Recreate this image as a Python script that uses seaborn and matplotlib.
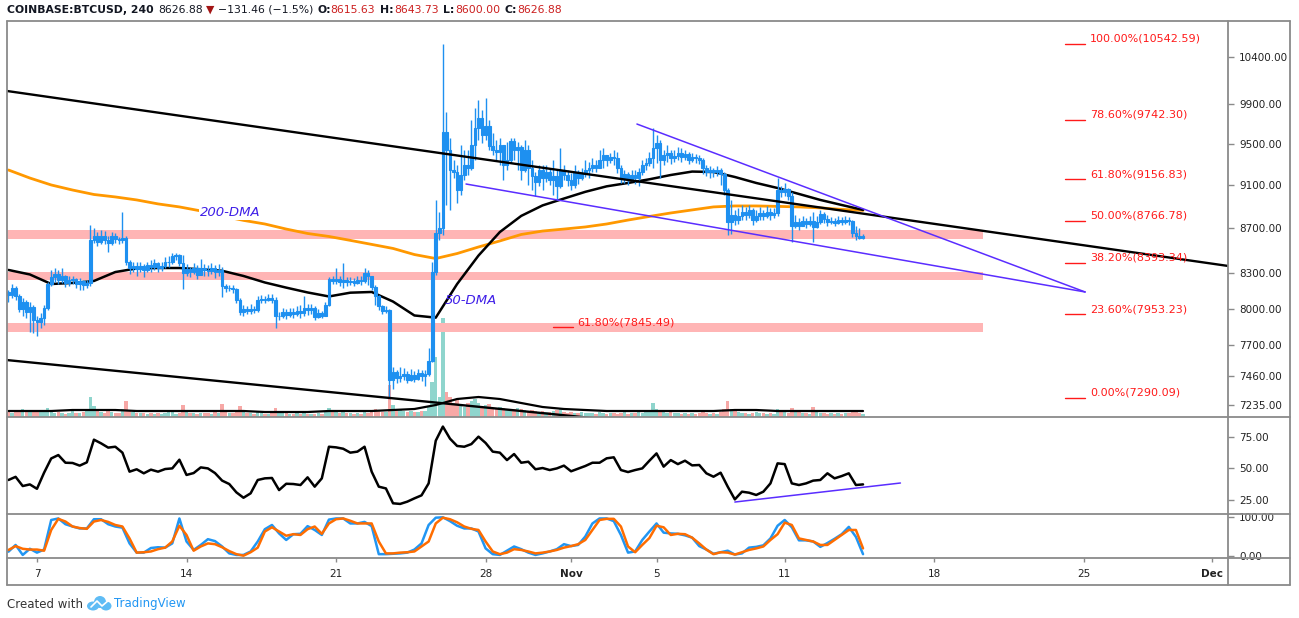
import numpy as np
import pandas as pd
import matplotlib
matplotlib.use("Agg")
import matplotlib.pyplot as plt
import matplotlib.dates as mdates
from matplotlib.lines import Line2D
from matplotlib.patches import Ellipse
from matplotlib.ticker import FixedLocator, NullLocator, FormatStrFormatter
import seaborn as sns

sns.set_theme(style="white")
plt.rcParams["font.family"] = ["DejaVu Sans"]

W, H = 1299, 618

# COINBASE:BTCUSD 4h candles, first one 2019-10-05 16:00
first_open = 8140.0
close = [8115, 8174,
         8106, 7997, 8055, 7972, 8014, 7906,
         7890, 7923, 8006, 8208, 8268, 8294,
         8242, 8277, 8217, 8242, 8251, 8208,
         8234, 8200, 8217, 8594, 8629, 8576,
         8629, 8594, 8567, 8629, 8603, 8594,
         8611, 8398, 8346, 8363, 8337, 8363,
         8329, 8372, 8355, 8390, 8346, 8363,
         8398, 8398, 8451, 8460, 8390, 8303,
         8337, 8311, 8346, 8285, 8346, 8329,
         8320, 8346, 8311, 8329, 8191, 8174,
         8174, 8166, 8072, 7972, 7997, 7981,
         7997, 7989, 8072, 8081, 8072, 8089,
         8072, 7939, 7939, 7972, 7947, 7972,
         7956, 7981, 7964, 8006, 7989, 8006,
         7931, 7964, 7939, 8031, 8251, 8234,
         8251, 8225, 8242, 8225, 8234, 8217,
         8242, 8234, 8303, 8277, 8183, 8106,
         8022, 7981, 7989, 7426, 7488, 7442,
         7457, 7473, 7426, 7465, 7434, 7480,
         7457, 7473, 7574, 8311, 8656, 8701,
         9618, 9439, 9244, 9225, 9053, 9196,
         9292, 9263, 9488, 9658, 9759, 9588,
         9678, 9478, 9439, 9419, 9488, 9292,
         9341, 9528, 9439, 9468, 9244, 9439,
         9263, 9186, 9129, 9244, 9167, 9225,
         9148, 9186, 9091, 9244, 9196, 9148,
         9101, 9225, 9167, 9206, 9244, 9263,
         9292, 9263, 9341, 9390, 9341, 9370,
         9361, 9263, 9167, 9206, 9148, 9196,
         9167, 9225, 9292, 9312, 9361, 9458,
         9508, 9341, 9390, 9409, 9361, 9380,
         9409, 9370, 9400, 9341, 9370, 9361,
         9341, 9263, 9225, 9244, 9225, 9244,
         9206, 9053, 8756, 8821, 8774, 8811,
         8848, 8821, 8867, 8774, 8811, 8839,
         8811, 8848, 8821, 8839, 9053, 9035,
         9063, 8998, 8720, 8756, 8720, 8765,
         8738, 8765, 8711, 8756, 8830, 8784,
         8756, 8765, 8747, 8774, 8756, 8774,
         8765, 8656, 8629, 8615.63, 8626.88]
high = [8157, 8208,
        8191, 8123, 8089, 8072, 8055, 8031,
        7939, 7964, 8031, 8225, 8329, 8346,
        8329, 8346, 8285, 8277, 8277, 8259,
        8259, 8242, 8242, 8729, 8701, 8665,
        8683, 8674, 8629, 8665, 8656, 8620,
        8848, 8629, 8416, 8398, 8398, 8398,
        8381, 8398, 8416, 8425, 8398, 8398,
        8442, 8451, 8477, 8477, 8468, 8460,
        8381, 8355, 8390, 8372, 8425, 8381,
        8372, 8390, 8372, 8381, 8355, 8208,
        8200, 8200, 8174, 8089, 8031, 8022,
        8039, 8022, 8106, 8115, 8106, 8123,
        8123, 8098, 7972, 8006, 7997, 8006,
        8006, 8022, 8031, 8106, 8039, 8039,
        8022, 7997, 7981, 8055, 8268, 8277,
        8346, 8277, 8390, 8268, 8268, 8259,
        8277, 8277, 8346, 8329, 8277, 8200,
        8115, 8031, 8022, 7997, 7527, 7504,
        7527, 7519, 7496, 7512, 7496, 7512,
        7504, 7504, 7678, 8398, 8960, 8848,
        10542.59, 9820, 9558, 9341, 9292, 9488,
        9439, 9439, 9739, 9862, 9944, 9841,
        9965, 9739, 9608, 9538, 9558, 9488,
        9518, 9558, 9558, 9518, 9488, 9538,
        9488, 9341, 9225, 9292, 9292, 9292,
        9263, 9341, 9244, 9458, 9292, 9244,
        9215, 9292, 9244, 9263, 9341, 9322,
        9361, 9341, 9439, 9458, 9390, 9409,
        9439, 9419, 9292, 9244, 9225, 9244,
        9244, 9263, 9341, 9361, 9419, 9658,
        9588, 9538, 9439, 9488, 9439, 9439,
        9468, 9458, 9439, 9419, 9409, 9400,
        9390, 9361, 9292, 9283, 9263, 9283,
        9263, 9225, 9072, 8960, 8867, 8886,
        8913, 8895, 8913, 8886, 8867, 8895,
        8867, 8904, 8886, 8886, 9167, 9091,
        9120, 9072, 9035, 8821, 8793, 8811,
        8793, 8811, 8848, 8811, 8867, 8848,
        8821, 8802, 8793, 8811, 8802, 8811,
        8802, 8774, 8720, 8701, 8643.73]
low = [8055, 8089,
       8072, 7972, 7939, 7923, 7808, 7800,
       7775, 7840, 7865, 7989, 8191, 8225,
       8208, 8217, 8183, 8191, 8208, 8174,
       8157, 8157, 8174, 8191, 8567, 8540,
       8558, 8558, 8486, 8549, 8567, 8558,
       8567, 8372, 8294, 8311, 8277, 8311,
       8268, 8311, 8311, 8329, 8311, 8320,
       8346, 8355, 8381, 8416, 8363, 8166,
       8277, 8268, 8294, 8251, 8294, 8277,
       8277, 8294, 8259, 8277, 8098, 8140,
       8149, 8132, 8047, 7947, 7939, 7956,
       7956, 7964, 7972, 8047, 8047, 8064,
       8047, 7840, 7906, 7923, 7914, 7931,
       7923, 7939, 7923, 7939, 7947, 7956,
       7906, 7923, 7923, 7939, 8022, 8208,
       8208, 8191, 8174, 8191, 8200, 8191,
       8208, 8200, 8217, 8200, 8157, 8031,
       7989, 7956, 7964, 7290.09, 7357, 7403,
       7411, 7426, 7403, 7418, 7411, 7426,
       7418, 7380, 7457, 7566, 8285, 8594,
       8638, 8913, 8867, 9167, 8932, 9007,
       9148, 9196, 9244, 9341, 9538, 9508,
       9538, 9439, 9390, 9341, 9292, 9148,
       9244, 9312, 9341, 9244, 9148, 9225,
       9101, 9053, 8998, 9091, 9053, 9129,
       9101, 9007, 8960, 9072, 9148, 9091,
       9053, 9072, 9110, 9148, 9177, 9167,
       9225, 9225, 9263, 9263, 9283, 9312,
       9292, 9215, 9120, 9120, 9101, 9139,
       9110, 9091, 9196, 9244, 9283, 9263,
       9312, 9167, 9292, 9322, 9302, 9322,
       9341, 9322, 9341, 9302, 9322, 9312,
       9302, 9206, 9186, 9167, 9177, 9186,
       9101, 9007, 8638, 8647, 8729, 8738,
       8774, 8774, 8793, 8729, 8756, 8774,
       8774, 8793, 8774, 8793, 8811, 8988,
       8998, 8960, 8576, 8701, 8683, 8720,
       8701, 8720, 8576, 8701, 8738, 8747,
       8720, 8738, 8720, 8738, 8729, 8738,
       8729, 8620, 8594, 8603, 8600.00]
volume = [2000, 1600,
          2400, 2000, 3200, 2400, 2000, 2800,
          2000, 2400, 2800, 3600, 2000, 1600,
          2000, 1600, 1200, 1600, 2400, 1600,
          1600, 2000, 2400, 8000, 4400, 2400,
          2000, 1600, 2400, 2000, 1600, 1600,
          3200, 6400, 2400, 2000, 1600, 1600,
          1600, 1200, 1600, 1200, 1600, 1200,
          1600, 2000, 2000, 1200, 1600, 4800,
          2000, 1600, 1600, 1200, 1600, 1600,
          1600, 1200, 2000, 1600, 5200, 2000,
          1600, 1600, 2000, 4400, 2000, 1600,
          1600, 1200, 2000, 1600, 1200, 1200,
          1600, 3600, 2000, 1600, 1600, 1200,
          1200, 1600, 1200, 2000, 1200, 1200,
          1200, 1600, 1200, 2400, 3600, 2400,
          2000, 1600, 2400, 1600, 1600, 1200,
          1600, 1200, 2000, 1600, 2400, 3200,
          2800, 2000, 2000, 12800, 4800, 3200,
          2800, 2400, 2000, 2400, 2000, 2000,
          2400, 2400, 4000, 14000, 24000, 8000,
          39600, 10000, 8000, 5600, 7200, 4800,
          4000, 5600, 6400, 7200, 5600, 4000,
          4800, 5200, 3600, 3200, 4000, 3600,
          3200, 2800, 3200, 3600, 3200, 2800,
          2400, 2800, 2400, 2000, 2400, 2000,
          2000, 2400, 2800, 3200, 2000, 1600,
          2000, 1600, 1600, 2000, 1600, 1600,
          1600, 1200, 2000, 1600, 1200, 1600,
          1600, 1200, 1600, 2000, 1200, 1600,
          1600, 2000, 1600, 2400, 2000, 5600,
          3200, 2400, 2000, 1600, 2000, 1600,
          1600, 1200, 1600, 1200, 1600, 1200,
          1600, 2000, 1600, 1200, 1600, 1200,
          2000, 3200, 6400, 3200, 2400, 2000,
          1600, 1600, 1200, 1600, 2000, 1600,
          1600, 1200, 1600, 1200, 3200, 2000,
          2000, 1600, 3600, 2400, 2000, 1600,
          1600, 1200, 4000, 2000, 1600, 1600,
          1200, 1600, 1200, 1600, 1200, 1600,
          1600, 2000, 2400, 1600, 1200]

# RSI and stochastic, read every second candle
rsi = [40.5, 43, 35.7, 37, 33.5, 46.3, 57.6, 60.3, 54.2, 54, 51.9, 54.5,
       72.5, 69.6, 66.2, 66.9, 62.2, 47.1, 49, 45.8, 48.7, 47.1, 49.2, 49.7,
       56.6, 44.5, 46, 50.5, 49.7, 46, 40, 37.3, 30.7, 26.4, 29.9, 40.5,
       41.8, 42.1, 32.5, 37.5, 37.3, 36.5, 42.6, 35.2, 41.8, 66.9, 66.4, 65.3,
       62.2, 63, 66.9, 47.1, 35.2, 33.8, 22, 21.5, 23.3, 25.9, 28.3, 37.8,
       71.7, 82.9, 73.3, 67.5, 66.9, 69, 74.9, 69.9, 63, 62.2, 56.3, 61.1,
       54.2, 55, 49, 50, 48.4, 49.7, 51.9, 47.4, 49.5, 51.6, 54.2, 54.2,
       57.7, 58.5, 48.4, 46.8, 48.4, 49.7, 55.8, 61.6, 51.1, 56.3, 53.1, 55.8,
       52.1, 52.4, 45.8, 43.1, 46.3, 35.2, 25.1, 31.2, 30.4, 28.6, 31.2, 37.8,
       53.7, 53.1, 37.8, 36.5, 37.8, 40, 40.5, 45.8, 41.8, 43.6, 45.8, 36.5,
       37]
stoch_k = [10.5, 28, 2, 18, 8, 16, 93, 97, 82, 76, 71, 71,
           95, 95, 82, 76, 73, 32, 8, 8, 20, 22, 21, 32,
           97, 37, 15, 28, 43, 38, 24, 6, 2, 2, 11, 37,
           69, 80, 58, 41, 56, 57, 77, 67, 54, 94, 97, 97,
           84, 84, 88, 77, 4, 4, 5, 6, 8, 16, 32, 80,
           99, 100, 90, 78, 71, 71, 63, 19, 4, 2, 13, 24,
           17, 8, 2, 6, 11, 17, 30, 25, 28, 50, 84, 97,
           97, 90, 54, 8, 11, 41, 63, 84, 60, 58, 57, 53,
           47, 25, 16, 5, 9, 13, 3, 6, 21, 23, 27, 45,
           78, 93, 74, 40, 40, 37, 23, 33, 44, 56, 75, 49,
           4]
stoch_d = [15, 25, 18, 16, 16, 13, 67, 96, 89, 76, 72, 70,
           89, 93, 88, 80, 76, 45, 8, 9, 11, 17, 21, 37,
           78, 54, 13, 24, 32, 30, 22, 12, 4, 0, 9, 21,
           63, 74, 63, 52, 56, 54, 69, 76, 57, 84, 95, 97,
           91, 84, 84, 84, 37, 6, 6, 8, 9, 11, 24, 37,
           84, 99, 95, 87, 76, 70, 67, 37, 11, 4, 8, 17,
           15, 11, 6, 8, 11, 15, 21, 25, 30, 41, 67, 93,
           96, 96, 76, 24, 9, 28, 46, 78, 74, 54, 57, 56,
           47, 32, 16, 4, 9, 8, 3, 9, 15, 19, 24, 41,
           56, 86, 80, 45, 41, 37, 28, 28, 41, 54, 67, 67,
           19]

# moving averages, read once a day
ma50 = [8329, 8290, 8208, 8217, 8234, 8311, 8342, 8346, 8346, 8335, 8322,
        8277, 8221, 8177, 8136, 8102, 8134, 8140, 8059, 7943, 7925, 8208,
        8455, 8665, 8812, 8909, 8973, 9036, 9088, 9120, 9155, 9196, 9229,
        9225, 9177, 9120, 9072, 9016, 8960, 8913, 8867]
ma200 = [9244, 9167, 9101, 9053, 9011, 8988, 8960, 8923, 8895, 8858, 8811,
         8771, 8738, 8692, 8652, 8625, 8590, 8554, 8518, 8464, 8429, 8473,
         8531, 8585, 8643, 8674, 8692, 8711, 8738, 8774, 8807, 8839, 8867,
         8895, 8904, 8904, 8900, 8895, 8886, 8872, 8863]
vol_ma = [2400, 2400, 2400, 2800, 2800, 2800, 2400, 2400, 2400, 2400, 2400,
          2400, 2000, 2000, 2000, 2400, 2400, 2400, 2800, 3200, 4800, 7200,
          8000, 7200, 5600, 4000, 3200, 2800, 2400, 2400, 2400, 2400, 2400,
          2400, 2800, 2800, 2400, 2400, 2400, 2400, 2400]

fib_pct = [0, 23.6, 38.2, 50, 61.8, 78.6, 100]
fib_price = [7290.09, 7953.23, 8393.34, 8766.78, 9156.83, 9742.30, 10542.59]
mid_fib_pct, mid_fib_price = 61.8, 7845.49
zone_lo = [8600, 8243, 7810]
zone_hi = [8683, 8308, 7882]

price_ticks = [7235, 7460, 7700, 8000, 8300, 8700, 9100, 9500, 9900, 10400]
rsi_ticks = [25, 50, 75]
stoch_ticks = [0, 100]
x_tick_dates = ["2019-10-07", "2019-10-14", "2019-10-21", "2019-10-28", "2019-11-01",
                "2019-11-05", "2019-11-11", "2019-11-18", "2019-11-25", "2019-12-01"]
x_tick_labels = ["7", "14", "21", "28", "Nov", "5", "11", "18", "25", "Dec"]

BLUE = "#1e90f0"
ORANGE = "#ff9800"
PURPLE = "#5a2dff"
FRAME = "#8a8a8a"
RED = "#ff1a1a"


def dnum(s):
    return mdates.date2num(pd.Timestamp(s))


def rect(x0, y0, x1, y1):
    return [x0 / W, 1 - y1 / H, (x1 - x0) / W, (y1 - y0) / H]


t = pd.date_range("2019-10-05 16:00", periods=len(close), freq="4h")
xs = mdates.date2num(t)
c = np.array(close, dtype=float)
o = np.concatenate([[first_open], c[:-1]])
hi = np.maximum(np.array(high, dtype=float), np.maximum(o, c))
lo = np.minimum(np.array(low, dtype=float), np.minimum(o, c))

fig = plt.figure(figsize=(W / 100, H / 100), dpi=100)
fig.patch.set_facecolor("white")

ax_vol = fig.add_axes(rect(7, 21, 1228, 417))
ax = fig.add_axes(rect(7, 21, 1228, 417), sharex=ax_vol)
ax.set_facecolor("none")
ax_rsi = fig.add_axes(rect(7, 417, 1228, 514), sharex=ax_vol)
ax_st = fig.add_axes(rect(7, 514, 1228, 558), sharex=ax_vol)
for a in (ax_vol, ax, ax_rsi, ax_st):
    for s in a.spines.values():
        s.set_visible(False)

# volume
vcol = np.where(c >= o, "#8fd5cd", "#f7a8a6")
ax_vol.bar(xs, volume, width=0.16, color=vcol, linewidth=0)
sns.lineplot(x=xs[::6], y=vol_ma, ax=ax_vol, color="black", linewidth=1.6)
ax_vol.set_ylim(0, 158400)
ax_vol.set_yticks([])
ax_vol.tick_params(bottom=False, labelbottom=False, left=False)

# price pane
ax.set_yscale("log")
for zl, zh in zip(zone_lo, zone_hi):
    ax.fill_between([dnum("2019-10-05 14:20"), dnum("2019-11-20 07:00")], zl, zh,
                    color="#ffb5b5", linewidth=0, zorder=1)

ax.vlines(xs, lo, hi, color=BLUE, linewidth=1.0, zorder=4)
ax.bar(xs, np.abs(c - o), bottom=np.minimum(o, c), width=0.125, color=BLUE,
       edgecolor=BLUE, linewidth=0.8, zorder=5)

sns.lineplot(x=xs[::6], y=ma200, ax=ax, color=ORANGE, linewidth=2.0, zorder=3)
sns.lineplot(x=xs[::6], y=ma50, ax=ax, color="black", linewidth=1.8, zorder=3)

# trend lines
ax.plot([dnum("2019-10-05 14:20"), dnum("2019-12-01 18:00")], [10038, 8364],
        color="black", linewidth=1.7, zorder=6)
ax.plot([dnum("2019-10-05 14:20"), dnum("2019-11-05 00:00")], [7582, 7090],
        color="black", linewidth=1.7, zorder=6)
ax.plot([dnum("2019-11-04 02:00"), dnum("2019-11-25 01:30")], [9698, 8140],
        color=PURPLE, linewidth=1.1, zorder=6)
ax.plot([dnum("2019-10-27 02:00"), dnum("2019-11-25 01:30")], [9110, 8140],
        color=PURPLE, linewidth=1.1, zorder=6)

# fibonacci labels
for pct, pr in zip(fib_pct, fib_price):
    ax.plot([dnum("2019-11-24 03:00"), dnum("2019-11-25 01:30")], [pr, pr],
            color=RED, linewidth=1.0, zorder=6)
    ax.text(dnum("2019-11-25 07:00"), pr, f"{pct:.2f}%({pr:.2f})", color=RED,
            fontsize=8, va="bottom", ha="left", zorder=7)
ax.plot([dnum("2019-10-31 04:00"), dnum("2019-11-01 02:00")], [mid_fib_price] * 2,
        color=RED, linewidth=1.0, zorder=6)
ax.text(dnum("2019-11-01 07:30"), mid_fib_price, f"{mid_fib_pct:.2f}%({mid_fib_price:.2f})",
        color=RED, fontsize=8, va="bottom", ha="left", zorder=7)

ax.text(dnum("2019-10-14 15:00"), 8839, "200-DMA", color="#3f1fe8", fontsize=9.5,
        style="italic", va="center", ha="left", zorder=8,
        bbox=dict(facecolor="white", edgecolor="none", pad=0.5))
ax.text(dnum("2019-10-26 02:30"), 8072, "50-DMA", color="#3f1fe8", fontsize=9.5,
        style="italic", va="center", ha="left", zorder=8)

ax.set_ylim(7145, 10798)
ax.yaxis.set_major_locator(FixedLocator(price_ticks))
ax.yaxis.set_minor_locator(NullLocator())
ax.yaxis.set_major_formatter(FormatStrFormatter("%.2f"))
ax.yaxis.tick_right()
ax.tick_params(axis="y", which="major", right=True, left=False, direction="out",
               length=4, width=1, color=FRAME, labelsize=7.5, labelcolor="#222222", pad=4)
ax.tick_params(axis="x", bottom=False, labelbottom=False)
ax.set_xlabel("")
ax.set_ylabel("")

# RSI pane
sns.lineplot(x=xs[::2], y=rsi, ax=ax_rsi, color="black", linewidth=1.8)
ax_rsi.plot([dnum("2019-11-08 16:00"), dnum("2019-11-16 10:00")], [23, 38.1],
            color=PURPLE, linewidth=1.1)
ax_rsi.set_ylim(13.5, 90.5)
ax_rsi.yaxis.set_major_locator(FixedLocator(rsi_ticks))
ax_rsi.yaxis.set_major_formatter(FormatStrFormatter("%.2f"))
ax_rsi.yaxis.tick_right()
ax_rsi.tick_params(axis="y", right=True, left=False, direction="out", length=4, width=1,
                   color=FRAME, labelsize=7.5, labelcolor="#222222", pad=4)
ax_rsi.tick_params(axis="x", bottom=False, labelbottom=False)
ax_rsi.set_xlabel("")
ax_rsi.set_ylabel("")

# stochastic pane
sns.lineplot(x=xs[::2], y=stoch_k, ax=ax_st, color="#2196f3", linewidth=1.8)
sns.lineplot(x=xs[::2], y=stoch_d, ax=ax_st, color="#ff6d00", linewidth=1.8)
ax_st.set_ylim(-6, 108.6)
ax_st.yaxis.set_major_locator(FixedLocator(stoch_ticks))
ax_st.yaxis.set_major_formatter(FormatStrFormatter("%.2f"))
ax_st.yaxis.tick_right()
ax_st.tick_params(axis="y", right=True, left=False, direction="out", length=4, width=1,
                  color=FRAME, labelsize=7.5, labelcolor="#222222", pad=4)
ax_st.set_xticks([dnum(d) for d in x_tick_dates], labels=x_tick_labels)
ax_st.xaxis.set_minor_locator(NullLocator())
ax_st.tick_params(axis="x", bottom=True, direction="out", length=3, width=1, color=FRAME,
                  labelsize=7.5, labelcolor="#222222", pad=5)
for lab in ax_st.get_xticklabels():
    if lab.get_text() in ("Nov", "Dec"):
        lab.set_fontweight("bold")
ax_st.set_xlabel("")
ax_st.set_ylabel("")

ax_vol.set_xlim(dnum("2019-10-05 14:20"), dnum("2019-12-01 18:00"))

# frame lines
def fline(xa, ya, xb, yb):
    fig.add_artist(Line2D([xa / W, xb / W], [1 - ya / H, 1 - yb / H], color=FRAME, linewidth=1.3))

for yy in (21, 417, 514, 558, 585):
    fline(7, yy, 1290, yy)
for xx in (7, 1228, 1290):
    fline(xx, 21, xx, 585)

# header
rend = fig.canvas.get_renderer()
hdr = [("COINBASE:BTCUSD, 240", "#131722", "bold", 5),
       ("8626.88", "#131722", "normal", 3),
       ("▼", "#a31515", "normal", 3),
       ("−131.46 (−1.5%)", "#131722", "normal", 4),
       ("O:", "#131722", "bold", 0), ("8615.63", "#cc1f1f", "normal", 5),
       ("H:", "#131722", "bold", 0), ("8643.73", "#cc1f1f", "normal", 5),
       ("L:", "#131722", "bold", 0), ("8600.00", "#cc1f1f", "normal", 5),
       ("C:", "#131722", "bold", 0), ("8626.88", "#cc1f1f", "normal", 0)]
xp = 7
for txt, col, wt, gap in hdr:
    tt = fig.text(xp / W, 1 - 10 / H, txt, color=col, fontweight=wt, fontsize=7.8,
                  va="center", ha="left")
    xp += tt.get_window_extent(renderer=rend).width + gap

# footer
ft = fig.text(7 / W, 1 - 604 / H, "Created with", color="#333333", fontsize=8.5,
              va="center", ha="left")
fx0 = 7 + ft.get_window_extent(renderer=rend).width + 4
for dx, dy, ew, eh in ((6, 2, 12, 9), (13, -2, 12, 12), (19, 2, 11, 9)):
    fig.add_artist(Ellipse(((fx0 + dx) / W, 1 - (604 + dy) / H), ew / W, eh / H,
                           color="#5fbcf5", linewidth=0))
fig.add_artist(Line2D([(fx0 + 4) / W, (fx0 + 10) / W, (fx0 + 15) / W, (fx0 + 22) / W],
                      [1 - 607 / H, 1 - 601 / H, 1 - 606 / H, 1 - 600 / H],
                      color="white", linewidth=1.2))
fig.text((fx0 + 27) / W, 1 - 604 / H, "TradingView", color="#2196f3", fontsize=8.5,
         va="center", ha="left")

fig.savefig("out.png", dpi=100)
